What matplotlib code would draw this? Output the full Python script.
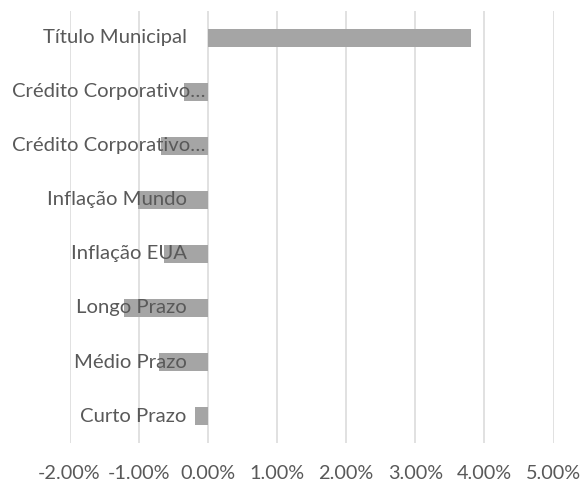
import matplotlib
matplotlib.use("Agg")
import matplotlib.pyplot as plt
import matplotlib.transforms as mtransforms
from matplotlib.ticker import FuncFormatter, MultipleLocator

categories = ["Curto Prazo", "Médio Prazo", "Longo Prazo", "Inflação EUA",
              "Inflação Mundo", "Crédito Corporativo…", "Crédito Corporativo…",
              "Título Municipal"]
values = [-0.18, -0.70, -1.21, -0.63, -1.01, -0.67, -0.35, 3.80]  # percent

TEXT = "#595959"
FONT = ["Lato", "DejaVu Sans"]

fig = plt.figure(figsize=(5.86, 4.87), dpi=100)
ax = fig.add_axes([69.5 / 586, 1 - 443 / 487, (553.5 - 69.5) / 586, 432 / 487])

ypos = list(range(len(categories)))
ax.barh(ypos, values, height=0.34, color="#A5A5A5", zorder=2)

ax.set_xlim(-2, 5)
ax.set_ylim(-0.5, len(categories) - 0.5)
ax.xaxis.set_major_locator(MultipleLocator(1))
ax.xaxis.set_major_formatter(FuncFormatter(lambda v, p: f"{v:.2f}%"))
ax.grid(axis="x", color="#D9D9D9", linewidth=1.1, zorder=0)
ax.set_axisbelow(True)
for s in ax.spines.values():
    s.set_visible(False)
ax.set_yticks([])
ax.tick_params(axis="x", length=0, pad=16, labelsize=14.3, labelcolor=TEXT)
for lab in ax.get_xticklabels():
    lab.set_family(FONT)

for y, lab in zip(ypos, categories):
    dx = -2 if lab.endswith("…") else -21
    off = mtransforms.offset_copy(ax.transData, fig=fig, x=dx, y=0, units="dots")
    ax.text(0, y, lab, transform=off, ha="right", va="center",
            fontsize=14.6, color=TEXT, family=FONT, zorder=3)

fig.savefig("out.png", dpi=100)
